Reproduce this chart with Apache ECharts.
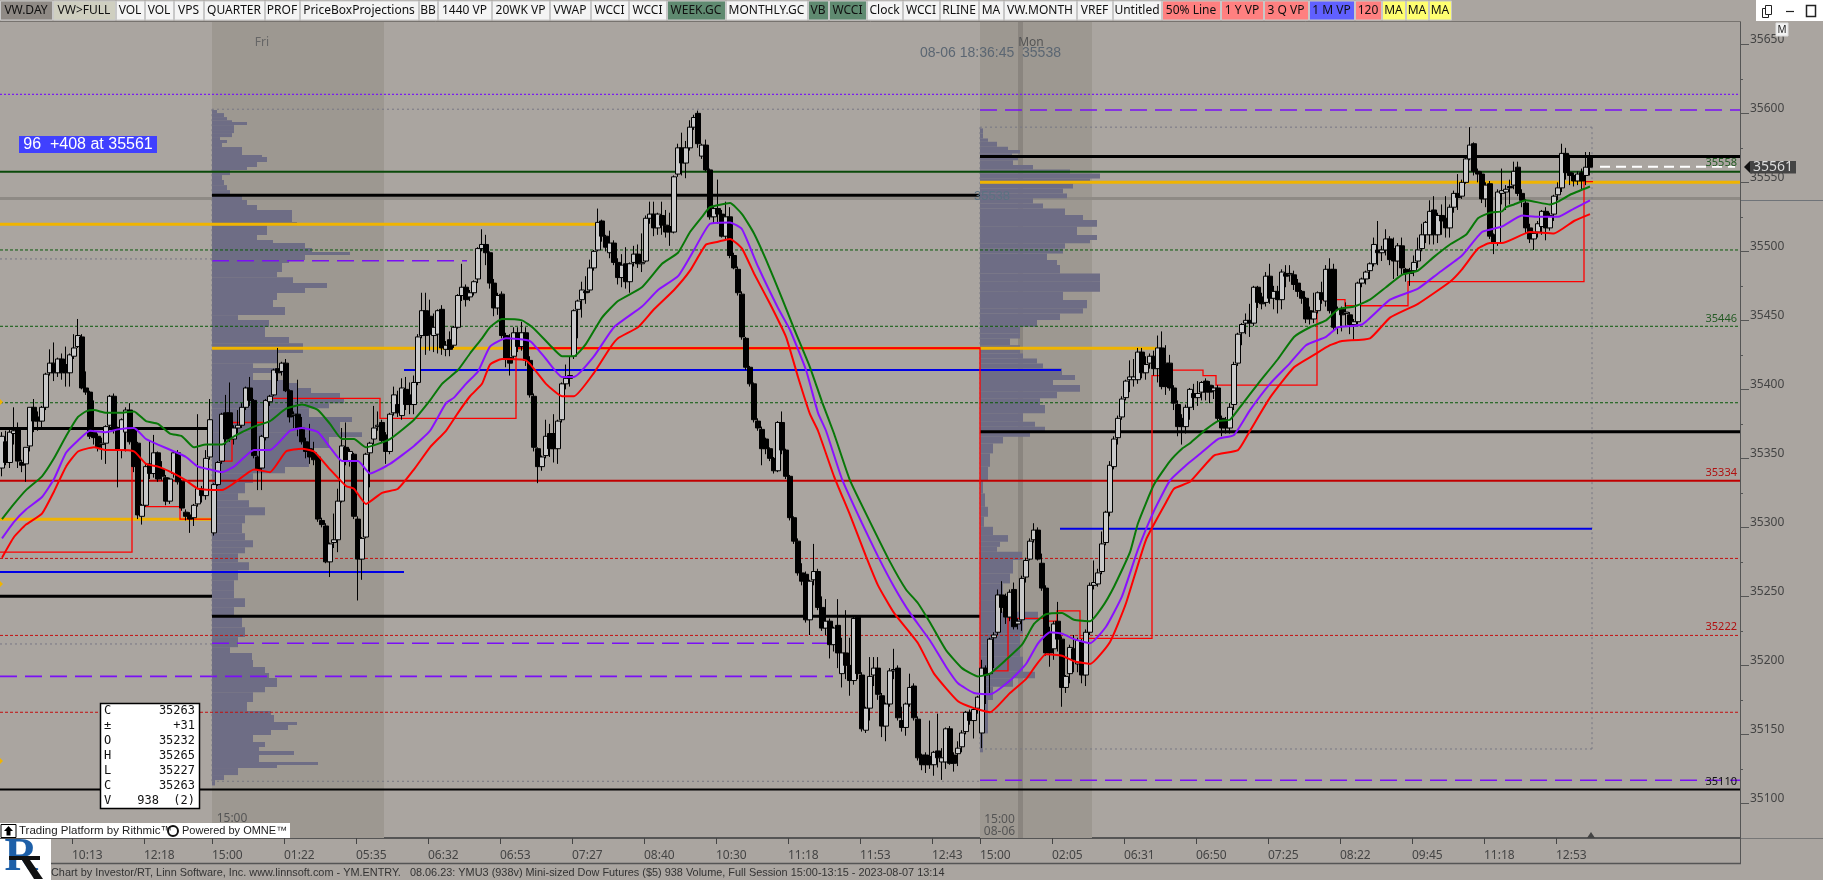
<!DOCTYPE html>
<html><head><meta charset="utf-8">
<style>html,body{margin:0;padding:0;background:#aaa5a0;overflow:hidden}#c{width:1823px;height:880px}</style>
<script src="https://cdn.jsdelivr.net/npm/echarts@6/dist/echarts.min.js"></script>
</head><body><div id="c"></div>
<script>
// ---------- values ----------
// every row: open, close, low, high; one row per bar
const candleRows = [
[35343,35366,35337,35369],[35362,35347,35345,35370],[35347,35369,35343,35372],[35368,35370,35360,35387],[35371,35348,35343,35376],[35347,35345,35340,35349],[35346,35358,35333,35358],[35359,35387,35355,35387],[35387,35377,35369,35393],[35380,35377,35370,35384],
[35377,35387,35371,35388],[35387,35411,35385,35412],[35412,35419,35410,35429],[35419,35412,35406,35434],[35412,35422,35409,35423],[35422,35412,35407,35426],[35418,35412,35402,35431],[35412,35425,35402,35426],[35424,35430,35422,35440],[35431,35439,35430,35451],
[35438,35401,35400,35440],[35401,35398,35396,35413],[35398,35366,35364,35399],[35369,35365,35360,35392],[35366,35358,35355,35368],[35360,35361,35349,35365],[35361,35373,35346,35374],[35374,35395,35372,35396],[35395,35371,35368,35397],[35371,35356,35329,35373],
[35356,35378,35350,35379],[35369,35385,35355,35387],[35385,35362,35360,35390],[35371,35344,35340,35372],[35361,35309,35306,35362],[35308,35316,35302,35317],[35316,35344,35315,35346],[35346,35339,35335,35363],[35339,35354,35336,35367],[35354,35335,35333,35355],
[35342,35337,35334,35348],[35336,35319,35316,35338],[35319,35335,35317,35336],[35339,35354,35336,35355],[35354,35333,35331,35356],[35333,35314,35312,35334],[35311,35308,35305,35313],[35309,35306,35296,35311],[35307,35316,35301,35317],[35317,35328,35315,35382],
[35328,35323,35318,35330],[35323,35350,35320,35356],[35351,35378,35349,35393],[35296,35331,35294,35332],[35331,35347,35330,35348],[35348,35382,35346,35383],[35383,35364,35360,35396],[35383,35365,35362,35405],[35364,35372,35360,35374],[35372,35374,35368,35385],
[35374,35387,35372,35390],[35387,35401,35385,35402],[35401,35392,35388,35409],[35392,35352,35350,35393],[35351,35342,35327,35352],[35343,35366,35327,35367],[35365,35392,35363,35393],[35391,35395,35388,35396],[35396,35414,35395,35415],[35415,35412,35406,35430],
[35413,35419,35410,35420],[35419,35399,35398,35422],[35399,35380,35376,35400],[35381,35382,35372,35384],[35382,35372,35366,35407],[35372,35362,35360,35380],[35362,35355,35350,35365],[35357,35351,35346,35375],[35354,35349,35345,35362],[35351,35306,35304,35353],
[35305,35302,35300,35307],[35301,35275,35274,35303],[35275,35288,35264,35289],[35289,35291,35285,35310],[35291,35319,35282,35328],[35319,35359,35318,35372],[35358,35348,35345,35376],[35348,35355,35344,35357],[35353,35308,35306,35354],[35306,35277,35247,35308],
[35277,35292,35262,35293],[35293,35353,35292,35354],[35354,35361,35329,35362],[35364,35372,35360,35388],[35373,35374,35370,35384],[35376,35363,35361,35378],[35367,35355,35346,35369],[35355,35382,35353,35383],[35383,35396,35381,35402],[35389,35383,35380,35399],
[35381,35401,35378,35408],[35400,35389,35385,35409],[35396,35389,35382,35405],[35389,35405,35382,35410],[35405,35438,35403,35440],[35439,35457,35437,35470],[35457,35439,35425,35470],[35453,35440,35428,35465],[35439,35445,35427,35455],[35440,35457,35426,35458],
[35458,35430,35425,35461],[35429,35432,35424,35435],[35436,35429,35424,35442],[35432,35445,35430,35446],[35445,35468,35444,35469],[35468,35474,35464,35491],[35474,35465,35460,35476],[35467,35470,35464,35472],[35470,35478,35468,35479],[35480,35502,35477,35503],
[35502,35505,35500,35516],[35505,35499,35490,35512],[35499,35477,35473,35500],[35477,35459,35453,35480],[35459,35468,35454,35470],[35469,35439,35437,35471],[35439,35422,35416,35441],[35423,35419,35410,35440],[35424,35441,35422,35445],[35441,35431,35427,35445],
[35431,35441,35428,35449],[35441,35421,35417,35445],[35421,35396,35394,35424],[35395,35358,35355,35397],[35357,35344,35332,35358],[35344,35351,35341,35352],[35352,35366,35350,35378],[35368,35357,35351,35375],[35368,35357,35347,35382],[35357,35377,35346,35378],
[35378,35404,35376,35405],[35404,35408,35400,35418],[35410,35408,35402,35424],[35424,35457,35422,35458],[35458,35464,35437,35465],[35465,35472,35452,35478],[35471,35470,35462,35482],[35472,35488,35470,35494],[35488,35500,35486,35501],[35501,35521,35500,35531],
[35522,35511,35507,35523],[35511,35503,35500,35512],[35499,35506,35495,35515],[35506,35492,35490,35508],[35492,35481,35476,35495],[35481,35490,35474,35498],[35491,35478,35473,35503],[35478,35491,35470,35492],[35492,35498,35489,35504],[35498,35491,35488,35505],
[35491,35492,35485,35513],[35493,35524,35492,35526],[35524,35527,35520,35536],[35527,35517,35511,35536],[35517,35527,35512,35528],[35526,35519,35512,35536],[35519,35514,35510,35530],[35518,35514,35504,35528],[35514,35554,35513,35555],[35556,35575,35554,35578],
[35575,35564,35555,35586],[35564,35575,35553,35580],[35575,35590,35573,35595],[35590,35597,35588,35599],[35600,35578,35575,35602],[35569,35577,35567,35578],[35577,35559,35558,35581],[35559,35525,35523,35560],[35525,35531,35520,35533],[35531,35527,35520,35552],
[35527,35511,35510,35530],[35511,35525,35508,35536],[35525,35497,35495,35532],[35497,35488,35487,35499],[35487,35470,35468,35489],[35469,35438,35436,35471],[35437,35416,35414,35438],[35416,35404,35402,35417],[35404,35378,35376,35405],[35377,35372,35370,35379],
[35371,35357,35345,35373],[35364,35357,35353,35365],[35357,35350,35348,35358],[35350,35341,35339,35351],[35341,35376,35340,35377],[35376,35356,35353,35384],[35356,35337,35335,35357],[35337,35307,35305,35338],[35307,35290,35288,35308],[35290,35267,35265,35292],
[35267,35261,35258,35274],[35266,35233,35231,35268],[35233,35261,35222,35262],[35262,35268,35258,35288],[35268,35242,35240,35270],[35242,35227,35225,35250],[35227,35232,35222,35248],[35232,35215,35205,35234],[35215,35227,35210,35228],[35229,35209,35198,35248],
[35194,35209,35184,35220],[35209,35200,35190,35240],[35200,35189,35178,35220],[35189,35234,35186,35235],[35235,35194,35190,35236],[35193,35154,35152,35195],[35153,35169,35151,35170],[35169,35192,35160,35206],[35193,35198,35185,35206],[35198,35179,35175,35206],
[35178,35156,35148,35180],[35156,35172,35145,35173],[35172,35196,35170,35198],[35196,35197,35190,35212],[35198,35162,35160,35200],[35160,35155,35152,35170],[35155,35172,35149,35173],[35172,35184,35170,35194],[35185,35162,35160,35187],[35161,35133,35131,35163],
[35135,35128,35124,35136],[35135,35128,35122,35137],[35134,35128,35125,35160],[35128,35137,35120,35138],[35138,35133,35126,35165],[35130,35133,35117,35140],[35130,35154,35125,35155],[35154,35129,35128,35156],[35135,35129,35123,35137],[35136,35140,35127,35145],
[35141,35151,35137,35153],[35152,35166,35150,35167],[35166,35160,35157,35168],[35160,35168,35147,35169],[35169,35177,35165,35178],[35151,35198,35140,35204],[35198,35193,35172,35200],[35194,35219,35180,35220],[35220,35222,35198,35224],[35224,35251,35222,35255],
[35251,35242,35238,35261],[35250,35235,35230,35252],[35235,35253,35232,35255],[35255,35228,35226,35260],[35230,35232,35226,35234],[35233,35263,35225,35265],[35264,35276,35260,35278],[35277,35290,35276,35292],[35291,35298,35289,35303],[35298,35277,35276,35300],
[35274,35256,35254,35281],[35256,35209,35207,35258],[35223,35209,35199,35228],[35212,35230,35204,35232],[35232,35219,35210,35246],[35219,35184,35170,35221],[35184,35192,35180,35193],[35194,35213,35187,35215],[35212,35204,35195,35222],[35201,35218,35195,35220],
[35217,35193,35187,35219],[35193,35224,35185,35226],[35224,35258,35222,35260],[35258,35260,35255,35276],[35259,35267,35257,35270],[35268,35288,35266,35297],[35289,35311,35287,35312],[35311,35345,35308,35348],[35344,35364,35342,35366],[35365,35379,35360,35381],
[35380,35393,35378,35395],[35394,35406,35392,35407],[35407,35409,35398,35421],[35407,35409,35402,35422],[35407,35427,35404,35430],[35427,35412,35408,35430],[35412,35418,35407,35424],[35419,35424,35415,35426],[35424,35415,35410,35428],[35415,35430,35405,35439],
[35430,35402,35400,35442],[35419,35402,35396,35432],[35419,35401,35399,35425],[35401,35390,35385,35403],[35389,35373,35366,35392],[35379,35373,35360,35382],[35373,35387,35368,35389],[35387,35400,35378,35401],[35397,35394,35385,35404],[35394,35397,35388,35406],
[35398,35405,35392,35406],[35406,35398,35392,35408],[35403,35398,35390,35406],[35399,35401,35393,35403],[35401,35379,35377,35403],[35379,35372,35366,35381],[35378,35372,35368,35380],[35372,35387,35368,35390],[35389,35418,35385,35420],[35419,35440,35417,35441],
[35441,35447,35432,35448],[35448,35450,35440,35455],[35450,35448,35438,35462],[35448,35474,35446,35475],[35474,35463,35459,35475],[35467,35462,35458,35470],[35463,35482,35460,35485],[35482,35466,35462,35491],[35466,35471,35458,35475],[35471,35465,35455,35475],
[35465,35485,35458,35487],[35484,35482,35474,35490],[35483,35484,35478,35490],[35483,35476,35472,35486],[35477,35471,35467,35480],[35471,35466,35462,35472],[35466,35451,35448,35467],[35457,35451,35447,35460],[35451,35456,35448,35470],[35457,35470,35455,35471],
[35470,35465,35462,35478],[35464,35487,35460,35490],[35487,35457,35455,35495],[35487,35445,35443,35491],[35445,35458,35440,35460],[35458,35454,35442,35460],[35455,35456,35446,35463],[35454,35447,35440,35456],[35447,35449,35436,35451],[35449,35477,35447,35478],
[35477,35480,35474,35481],[35480,35485,35476,35486],[35486,35491,35480,35492],[35491,35505,35489,35510],[35501,35499,35490,35522],[35499,35501,35493,35504],[35501,35509,35497,35516],[35509,35494,35490,35511],[35502,35493,35480,35510],[35493,35504,35482,35506],
[35504,35488,35483,35510],[35487,35484,35478,35488],[35486,35484,35475,35488],[35486,35492,35482,35497],[35493,35501,35488,35510],[35502,35512,35500,35520],[35512,35521,35506,35522],[35512,35529,35505,35537],[35530,35512,35505,35540],[35512,35526,35506,35528],
[35526,35522,35512,35534],[35524,35517,35510,35540],[35517,35532,35510,35534],[35532,35542,35528,35544],[35542,35539,35530,35556],[35540,35550,35538,35552],[35550,35567,35549,35568],[35567,35577,35566,35590],[35578,35558,35555,35579],[35558,35556,35550,35560],
[35556,35538,35535,35558],[35538,35548,35532,35550],[35549,35511,35509,35551],[35512,35506,35498,35513],[35506,35543,35504,35545],[35542,35544,35534,35560],[35543,35545,35530,35548],[35547,35546,35534,35552],[35548,35558,35545,35565],[35561,35542,35540,35565],
[35542,35537,35532,35545],[35535,35517,35513,35538],[35517,35509,35506,35520],[35509,35513,35501,35514],[35514,35520,35510,35522],[35518,35529,35512,35530],[35529,35517,35508,35532],[35517,35526,35515,35528],[35527,35540,35522,35541],[35541,35546,35537,35550],
[35546,35571,35543,35578],[35571,35557,35552,35575],[35557,35555,35548,35570],[35555,35551,35547,35557],[35551,35556,35548,35558],[35557,35551,35545,35560],[35555,35561,35548,35572],[35568,35561,35555,35572]
];
// moving averages: [bar, price]
const greenMA = [[0,35306],[3,35317],[6,35327],[10,35337],[13,35350],[16,35366],[19,35380],[21,35384],[23,35385],[26,35383],[30,35383],[33,35384],[36,35377],[39,35375],[42,35368],[45,35366],[48,35358],[51,35360],[55,35360],[58,35366],[63,35373],[67,35377],[71,35386],[75,35389],[79,35385],[82,35375],[85,35364],[88,35364],[91,35358],[97,35364],[103,35378],[107,35392],[110,35404],[114,35414],[117,35426],[120,35437],[122,35445],[125,35451],[130,35450],[133,35444],[137,35432],[140,35424],[143,35424],[146,35433],[150,35452],[154,35464],[160,35474],[165,35491],[169,35499],[172,35514],[175,35525],[177,35532],[182,35535],[185,35527],[188,35513],[191,35494],[195,35466],[198,35444],[202,35416],[205,35391],[208,35368],[212,35334],[217,35304],[222,35275],[226,35255],[229,35245],[232,35231],[236,35211],[240,35198],[244,35192],[247,35194],[251,35204],[255,35215],[258,35230],[261,35237],[265,35238],[268,35233],[272,35232],[275,35242],[278,35257],[282,35282],[284,35303],[288,35331],[292,35348],[295,35357],[297,35361],[301,35371],[304,35377],[307,35378],[310,35389],[314,35404],[319,35422],[323,35438],[327,35445],[331,35450],[334,35458],[338,35460],[342,35465],[346,35474],[350,35483],[354,35486],[358,35496],[362,35505],[366,35512],[369,35524],[372,35528],[375,35529],[376,35532],[378,35534],[381,35537],[387,35534],[389,35536],[392,35541],[397,35547]];
const purpleMA = [[0,35292],[3,35304],[6,35313],[10,35322],[13,35335],[16,35354],[19,35363],[22,35370],[26,35369],[29,35371],[33,35372],[36,35364],[39,35360],[43,35355],[46,35351],[49,35344],[52,35342],[55,35340],[58,35344],[63,35356],[67,35356],[72,35370],[75,35372],[79,35369],[82,35358],[85,35348],[89,35348],[92,35339],[97,35346],[103,35359],[107,35370],[111,35390],[113,35394],[116,35404],[119,35413],[122,35431],[126,35437],[132,35435],[136,35422],[140,35409],[143,35409],[148,35424],[153,35445],[160,35460],[164,35472],[169,35482],[173,35501],[177,35520],[182,35521],[185,35516],[189,35489],[194,35459],[197,35443],[201,35414],[204,35383],[206,35370],[210,35335],[215,35303],[219,35279],[223,35257],[227,35238],[232,35218],[236,35199],[239,35187],[243,35180],[247,35179],[252,35189],[256,35201],[259,35216],[262,35224],[265,35223],[268,35219],[272,35216],[276,35228],[280,35250],[284,35284],[288,35312],[292,35334],[296,35345],[299,35352],[304,35364],[308,35367],[312,35385],[317,35404],[322,35419],[326,35432],[331,35438],[334,35445],[340,35447],[347,35465],[354,35473],[359,35484],[365,35497],[370,35514],[375,35518],[380,35526],[384,35525],[389,35525],[393,35531],[397,35537]];
const redMA = [[0,35278],[3,35293],[6,35302],[10,35310],[13,35326],[16,35344],[19,35355],[23,35358],[26,35356],[29,35356],[33,35355],[36,35346],[39,35344],[43,35339],[46,35334],[49,35328],[55,35327],[58,35332],[63,35342],[67,35340],[71,35355],[75,35357],[78,35355],[82,35342],[86,35330],[88,35328],[91,35317],[95,35325],[99,35328],[103,35342],[107,35358],[111,35370],[114,35383],[117,35395],[120,35404],[122,35418],[125,35422],[131,35421],[136,35404],[140,35395],[143,35395],[148,35412],[152,35430],[154,35437],[159,35445],[163,35458],[168,35472],[172,35486],[176,35505],[179,35507],[182,35509],[185,35502],[188,35484],[192,35462],[196,35438],[199,35409],[202,35382],[204,35370],[208,35337],[212,35309],[216,35279],[219,35258],[223,35238],[229,35216],[233,35194],[239,35174],[243,35169],[247,35166],[252,35180],[256,35190],[261,35208],[265,35207],[268,35203],[272,35201],[277,35217],[281,35245],[286,35291],[291,35318],[293,35328],[297,35333],[303,35352],[309,35356],[312,35370],[317,35394],[323,35416],[328,35425],[332,35432],[335,35435],[342,35437],[347,35452],[354,35462],[362,35478],[365,35487],[369,35502],[372,35506],[375,35506],[382,35514],[388,35513],[393,35522],[397,35527]];
// price-box step lines: [bar, price]
const stepFri = [[-0.5,35282],[32.5,35282],[32.5,35360],[34.5,35360],[34.5,35315],[44.5,35315],[44.5,35306],[52.5,35306]];
const stepMain = [[54.5,35348],[57.5,35348],[57.5,35376],[66.5,35376],[66.5,35393.5],[94.5,35393.5],[94.5,35379],[128.5,35379],[128.5,35430],[244.5,35430],[244.5,35196],[251.5,35196],[251.5,35234],[261.25,35234],[261.25,35232],[263.75,35232],[263.75,35239.5],[269.5,35239.5],[269.5,35219.5],[287.5,35219.5],[287.5,35410],[292.5,35410],[292.5,35414],[300.25,35414],[300.25,35410],[303.5,35410],[303.5,35403],[328.75,35403],[328.75,35465],[335.75,35465],[335.75,35460.6],[351.5,35460.6],[351.5,35478],[395.5,35478],[395.5,35550.5],[397.75,35550.5]];
// horizontal levels: [price, first bar, last bar]
const blackThick = [[35568.8,244.5,434.5],[35540.6,52.5,244.5],[35371.7,-0.5,51.5],[35369.3,244.5,434.5],[35250,-0.5,52.5],[35235.5,52.5,244.5]];
const blackThin = [[35110,-0.5,434.5]];
const greenThick = [[35557.7,-0.5,434.5]];
const greenDash = [[35501,-0.5,434.5],[35445.7,-0.5,434.5],[35390.3,-0.5,434.5]];
const orangeLevels = [[35550,244.5,434.5],[35519.6,-0.5,148.25],[35429.7,52.5,288.75],[35305.8,-0.5,52.5]];
const redOnOrange = [[35429.7,128.5,244.5]];
const darkRedSolid = [[35333.8,-0.5,434.5]];
const redDash = [[35277.5,-0.5,434.5],[35221.7,-0.5,434.5],[35166,-0.5,434.5]];
const blueLevels = [[35414,100.5,264.75],[35267.6,-0.5,100.5],[35299,264.5,397.5]];
const purpleDotted = [[35613.8,-0.5,434.5]];
const purpleDashed = [[35602.4,244.5,434.5],[35493.2,52.5,116.25],[35216,52.5,206.25],[35192,-0.5,207.75],[35116.7,244.5,434.5]];
const grayDotted = [[35603,52.5,244.5],[35116,52.5,244.5],[35494.5,-0.5,52.5],[35215.5,-0.5,52.5],[35590,244.5,397.5],[35139.4,244.5,397.5]];
const grayDottedV = [[52.5,35603,35116],[244.5,35590,35139.4],[397.5,35590,35139.4]];
const lastPrice = [[35561.3,399.5,433.25]];
const crossBandPrices = [35539.3,35537.2];
const sessionBars = [[52.5,95.5],[244.5,272.5]];
const crossBars = [254,255.25];
// volume profiles: [price at top of row, volume]
const profileFri = [[35602.4,5],[35600.2,12],[35597.3,15],[35595,20],[35593.7,35],[35591.5,22],[35587.9,22],[35585.7,20],[35582.8,8],[35580.7,15],[35578.5,10],[35575.6,30],[35569.8,50],[35568.4,55],[35564.8,45],[35561.1,35],[35558.9,18],[35555.3,10],[35551.7,12],[35548,15],[35544.4,18],[35540.8,30],[35537.2,35],[35533.6,45],[35529.9,80],[35521.2,85],[35519,55],[35511.8,45],[35508.2,61],[35506,93],[35502.4,100],[35499.5,138],[35497.3,93],[35493.7,77],[35491.5,70],[35485,65],[35481.3,81],[35477,115],[35473.4,93],[35469.8,65],[35464.7,61],[35459.6,73],[35453.8,26],[35450.2,57],[35445.1,53],[35437.9,77],[35433.5,91],[35429.9,91],[35426.3,65],[35419,41],[35415.4,73],[35411.8,41],[35406.7,73],[35404.6,85],[35401,99],[35397.3,128],[35393.7,132],[35390,117],[35386.4,97],[35379.9,140],[35376.3,128],[35369,150],[35365.4,117],[35361.8,117],[35357.5,100],[35351,97],[35343.7,73],[35339.3,41],[35332.1,33],[35324.8,26],[35319.7,37],[35314.6,53],[35308.8,33],[35303,30],[35295.8,33],[35290.7,41],[35285.6,33],[35281.2,26],[35274.7,37],[35268.9,26],[35261.7,22],[35254.5,22],[35248.7,33],[35242.2,22],[35235,30],[35227.7,33],[35220.5,26],[35213.2,18],[35208.9,40],[35203.8,41],[35198.8,53],[35194.4,57],[35190.8,65],[35184.3,53],[35180.6,41],[35173.4,35],[35166.9,59],[35164,62],[35158.9,85],[35156.7,76],[35153.1,59],[35149.5,41],[35144.4,53],[35140.8,47],[35137.9,82],[35135,47],[35130,106],[35127.8,65],[35125.6,26],[35120.5,12],[35116.9,3],[35113,0]];
const profileMon = [[35589.1,3],[35585.4,3],[35581.8,8],[35579.4,17],[35575.8,28],[35573.4,40],[35571,32],[35568.5,38],[35566.1,33],[35562.5,53],[35559.4,90],[35556.5,120],[35552.8,110],[35549.2,93],[35545.6,83],[35542,87],[35538.4,53],[35534.7,63],[35531.1,85],[35526.3,103],[35522.7,117],[35517.8,97],[35511.8,117],[35508.2,110],[35505.8,85],[35502.1,83],[35498.5,67],[35493.7,77],[35490.1,80],[35484,120],[35478,120],[35470.7,83],[35464.7,107],[35458.7,103],[35455,80],[35450.2,57],[35445.4,40],[35440.5,40],[35436.9,30],[35432,40],[35426,43],[35422.4,57],[35418.8,63],[35415.2,82],[35410.4,95],[35406.7,73],[35403.1,100],[35398.3,77],[35393.5,60],[35388.6,65],[35382.6,43],[35376.6,55],[35372.9,65],[35369.3,50],[35365.6,23],[35360.8,13],[35353.6,10],[35343.9,8],[35334.2,3],[35324.6,5],[35314.9,8],[35307.7,4],[35300.4,13],[35294.4,28],[35289.6,20],[35285.9,17],[35282.3,42],[35276.3,33],[35266.6,30],[35259.4,23],[35247.3,20],[35238.8,58],[35232.8,43],[35223.2,40],[35215.9,40],[35206.2,43],[35195.4,55],[35190.6,33],[35184.5,13],[35174.9,8],[35150.7,3],[35139.8,3],[35137,0]];
const profileStartBars = [52.5,244.5];
// axes
const timeTickBars = [18,36,53,71,89,107,125,143,161,179,197,215,233,245,263,281,299,317,335,353,371,389];
const timeLabels = ['10:13','12:18','15:00','01:22','05:35','06:32','06:53','07:27','08:40','10:30','11:18','11:53','12:43','15:00','02:05','06:31','06:50','07:25','08:22','09:45','11:18','12:53'];
const priceTicks = [35100,35150,35200,35250,35300,35350,35400,35450,35500,35550,35600,35650];
const priceMinorTicks = [35125,35175,35225,35275,35325,35375,35425,35475,35525,35575,35625];
// text
const toolbarLabels = ['VW.DAY','VW>FULL','VOL','VOL','VPS','QUARTER','PROF','PriceBoxProjections','BB','1440 VP','20WK VP','VWAP','WCCI','WCCI','WEEK.GC','MONTHLY.GC','VB','WCCI','Clock','WCCI','RLINE','MA','VW.MONTH','VREF','Untitled','50% Line','1 Y VP','3 Q VP','1 M VP','120','MA','MA','MA'];
const infoLeft = ['C','±','O','H','L','C','V'];
const infoRight = ['35263','+31','35232','35265','35227','35263','938  (2)'];
const footerText = 'Chart by Investor/RT, Linn Software, Inc. www.linnsoft.com - YM.ENTRY.   08.06.23: YMU3 (938v) Mini-sized Dow Futures ($5) 938 Volume, Full Session 15:00-13:15 - 2023-08-07 13:14';

// ---------- layout and style ----------
const BG='#aaa5a0', FONT='"Noto Sans",sans-serif', NARROW='"Liberation Sans",sans-serif';
const yMin=35074.9, yMax=35666.2;
const barEdges=[0,53,116,145,174,204,265,300,419,438,492,550,591,629,667,726,808,829,867,903,940,979,1004,1077,1113,1162,1221,1264,1309,1355,1382,1406,1429,1452];
const barFill=['#8f8a85','#cfcfc0','','','','','','','','','','','','','#5f8a70','','#5f8a70','#5f8a70','','','','','','','','#ff8080','#ff8080','#ff8080','#6060ff','#ff8080','#ffff70','#ffff70','#ffff70'];

function levelSeries(rows,color,width,type,z){
  const data=[];
  rows.forEach(r=>{data.push([r[1],r[0]],[r[2],r[0]],[null,null]);});
  return {type:'line',data,connectNulls:false,symbol:'none',silent:true,z:z||2,animation:false,
    lineStyle:{color,width,type:type||'solid',cap:'butt'}};
}
function polySeries(points,color,width,z){
  return {type:'line',data:points,symbol:'none',silent:true,z:z||3,animation:false,lineStyle:{color,width,cap:'butt',join:'miter'}};
}
function maSeries(points,color){
  return {type:'line',data:points,symbol:'none',silent:true,z:6,animation:false,smooth:0.15,lineStyle:{color,width:2}};
}
function profileSeries(rows,startBar){
  const data=rows.slice(0,-1).map((r,k)=>[r[0],rows[k+1][0],r[1]]);
  return {type:'custom',silent:true,z:1,animation:false,data,encode:{x:[],y:[0,1]},
    renderItem(params,api){
      const a=api.coord([startBar,api.value(0)]), b=api.coord([startBar+api.value(2)/4,api.value(1)]);
      return {type:'rect',shape:{x:a[0],y:a[1],width:b[0]-a[0],height:b[1]-a[1]},style:{fill:'#6e6d85'}};
    }};
}
const gfx=[];
function R(x,y,w,h,fill,stroke,lw,z){gfx.push({type:'rect',silent:true,z:z||20,shape:{x,y,width:w,height:h},style:{fill:fill||'none',stroke:stroke||null,lineWidth:lw||1}});}
function T(x,y,text,color,size,align,font,z,weight){gfx.push({type:'text',silent:true,z:z||21,x,y,style:{text,fill:color,font:(weight||'normal')+' '+size+'px '+(font||FONT),textAlign:align||'left',textVerticalAlign:'middle'}});}
function L(x1,y1,x2,y2,color,lw,z){gfx.push({type:'line',silent:true,z:z||20,shape:{x1,y1,x2,y2},style:{stroke:color,lineWidth:lw||1}});}
function P(points,fill,z){gfx.push({type:'polygon',silent:true,z:z||20,shape:{points},style:{fill}});}

// toolbar
R(0,0,1823,21,BG,null);
L(0,21.5,1741,21.5,'#77736f',1);
toolbarLabels.forEach((t,k)=>{
  const x0=barEdges[k],x1=barEdges[k+1]-1;
  R(x0+.5,1,x1-x0,19,barFill[k]||'#f4f4f4','#c8c8c8',1);
  T((x0+x1)/2,11,t,'#111',12,'center',FONT);
});
// window buttons
R(1756,0,67,21,'#ffffff',null);
R(1762.5,8.5,6,9,null,'#222',1,21);R(1765.5,5.5,6,9,'#fff','#222',1,21);
L(1786,11.5,1794,11.5,'#222',1.2,21);
R(1806.5,5.5,9,11,null,'#222',1.5,21);
// small M box
R(1776,23,12,13,'#f2f2f2','#ddd',1,22);T(1782,30,'M','#222',10,'center',null,23);
// session text
T(262,42.5,'Fri','#666',12,'center');
T(1031,42.5,'Mon','#555',12,'center');
T(990.5,53,'08-06 18:36:45  35538','#5b6672',14,'center',NARROW);
T(992,196,'35538','#5b7282',13,'center',NARROW);
T(232,819,'15:00','#555',12,'center');
T(999.5,820,'15:00','#555',12,'center');
T(999.5,832,'08-06','#555',12,'center');
// blue text box
R(19,136,138,17,'#4040ff',null);
T(88,144.5,'96  +408 at 35561','#fff',16,'center',NARROW);
// right labels over levels
T(1737,163,'35558','#245a24',11,'right');
T(1737,319,'35446','#245a24',11,'right');
T(1737,473,'35334','#b01010',11,'right');
T(1737,627,'35222','#b01010',11,'right');
T(1737,782,'35110','#111',11,'right');
// last price tag
P([[1744,167],[1750,161],[1750,173]],'#111',22);
R(1750,161,46,12.5,'#444',null,1,22);
T(1773,167,'35561','#ddd',14,'center',null,23);
// crosshair tail
L(1741,200.5,1823,200.5,'#6f7378',1);
// frame
L(1740.5,22,1740.5,863,'#555',1,15);
L(1741,838.5,1823,838.5,'#777',1,15);
L(50,863.5,1741,863.5,'#555',1.5,15);
// triangle + edge diamonds
P([[1587,838],[1595,838],[1591,832]],'#444',16);
[402,584,761].forEach(y=>P([[0,y-3],[3,y],[0,y+3]],'#f0b400',16));
// info box
R(100.5,703.5,99,105,'#fff','#000',1.5,22);
infoLeft.forEach((t,k)=>{
  T(104,711+k*15,t,'#111',12,'left','"DejaVu Sans Mono",monospace',23);
  T(195,711+k*15,infoRight[k],'#111',12,'right','"DejaVu Sans Mono",monospace',23);
});
// Rithmic strip
R(0,823,290,15,'#fff',null,1,22);
R(1,824.5,15,13,'#fff','#000',1,23);
P([[8.5,826],[13,831],[10.5,831],[10.5,835.5],[6.5,835.5],[6.5,831],[4,831]],'#000',24);
T(19,831,'Trading Platform by Rithmic™','#222',11.5,'left',NARROW,23);
gfx.push({type:'circle',silent:true,z:23,shape:{cx:173,cy:831,r:5},style:{fill:'none',stroke:'#111',lineWidth:2}});
T(182,831,'Powered by OMNE™','#222',11,'left',NARROW,23);
// logo
R(0,839,51,41,'#fff',null,1,22);
T(21,858,'R','#1d5fa8',46,'center','"Liberation Serif",serif',23,'bold');
P([[22,860],[30,860],[43,879],[34,879]],'#111',24);
R(9,856,31,4,'#111',null,1,24);
// footer
T(51,873,footerText,'#333',10.9,'left',NARROW);

const series=[
  {type:'line',data:[],silent:true,z:0,animation:false,symbol:'none',
   markArea:{silent:true,itemStyle:{color:'#9d9891',opacity:1},data:sessionBars.map(s=>[{xAxis:s[0]},{xAxis:s[1]}])}},
  {type:'line',data:[],silent:true,z:0,animation:false,symbol:'none',
   markArea:{silent:true,itemStyle:{color:'#8a857f',opacity:1},data:[[{xAxis:crossBars[0]},{xAxis:crossBars[1]}]]}},
  {type:'line',data:[],silent:true,z:0,animation:false,symbol:'none',
   markArea:{silent:true,itemStyle:{color:'#8e8a85',opacity:1},data:[[{yAxis:crossBandPrices[0]},{yAxis:crossBandPrices[1]}]]}},
  profileSeries(profileFri,profileStartBars[0]),
  profileSeries(profileMon,profileStartBars[1]),
  levelSeries(purpleDotted,'#7a1cf0',1.2,[2,2]),
  levelSeries(purpleDashed,'#7a10f5',1.6,[17,8]),
  levelSeries(grayDotted,'#777784',1,[2,3]),
  {type:'line',silent:true,symbol:'none',z:2,animation:false,connectNulls:false,
   data:grayDottedV.flatMap(r=>[[r[0],r[1]],[r[0],r[2]],[null,null]]),lineStyle:{color:'#777784',width:1,type:[2,3]}},
  levelSeries(greenDash,'#0a5a0a',1,[3,2]),
  levelSeries(redDash,'#c41010',1,[3,2]),
  levelSeries(blackThick,'#000',3),
  levelSeries(blackThin,'#000',2),
  levelSeries(greenThick,'#0a4a0a',2),
  levelSeries(orangeLevels,'#f0b400',3),
  levelSeries(redOnOrange,'#ff0000',2,'solid',3),
  levelSeries(darkRedSolid,'#c00000',2),
  levelSeries(blueLevels,'#0000e6',2),
  polySeries(stepFri,'#ff0000',1.3),
  polySeries(stepMain,'#ff0000',1.3),
  levelSeries(lastPrice,'#ffffff',2,[10,6],7),
  {type:'candlestick',z:5,silent:true,animation:false,barWidth:5,
   data:candleRows.map((r,i)=>[i,r[0],r[1],r[2],r[3]]),
   itemStyle:{color:'#c9c9c9',color0:'#000',borderColor:'#000',borderColor0:'#000',borderWidth:1}},
  maSeries(redMA,'#ff0000'),
  maSeries(purpleMA,'#8a10ff'),
  maSeries(greenMA,'#087808')
];

const chart=echarts.init(document.getElementById('c'),null,{renderer:'canvas',width:1823,height:880});
const tickVals=timeTickBars.map(b=>b-0.5);
chart.setOption({
  animation:false,backgroundColor:BG,
  grid:{left:0,right:83,top:22,bottom:42,containLabel:false},
  xAxis:{type:'value',min:-0.5,max:434.5,splitLine:{show:false},
    axisLine:{show:true,onZero:false,lineStyle:{color:'#555',width:2}},
    axisTick:{show:true,length:6,inside:false,lineStyle:{color:'#444',width:1},customValues:tickVals},
    axisLabel:{show:true,align:'left',margin:12,color:'#444',fontFamily:FONT,fontSize:12,showMinLabel:true,showMaxLabel:true,hideOverlap:false,
      customValues:tickVals,formatter:v=>timeLabels[tickVals.indexOf(v)]||''}},
  yAxis:[
    {type:'value',position:'right',min:yMin,max:yMax,scale:true,splitLine:{show:false},
     axisLine:{show:true,onZero:false,lineStyle:{color:'#555',width:1}},
     axisTick:{show:true,length:9,lineStyle:{color:'#555'},customValues:priceTicks},
     axisLabel:{show:true,margin:10,color:'#444',fontFamily:FONT,fontSize:12,lineHeight:10,verticalAlign:'bottom',hideOverlap:false,
       customValues:priceTicks,formatter:v=>String(v)}},
    {type:'value',position:'right',min:yMin,max:yMax,scale:true,splitLine:{show:false},
     axisLine:{show:false,onZero:false},axisTick:{show:true,length:3,lineStyle:{color:'#555'},customValues:priceMinorTicks},
     axisLabel:{show:false}}
  ],
  tooltip:{show:false},legend:{show:false},
  series,
  graphic:{elements:gfx}
});
</script></body></html>
